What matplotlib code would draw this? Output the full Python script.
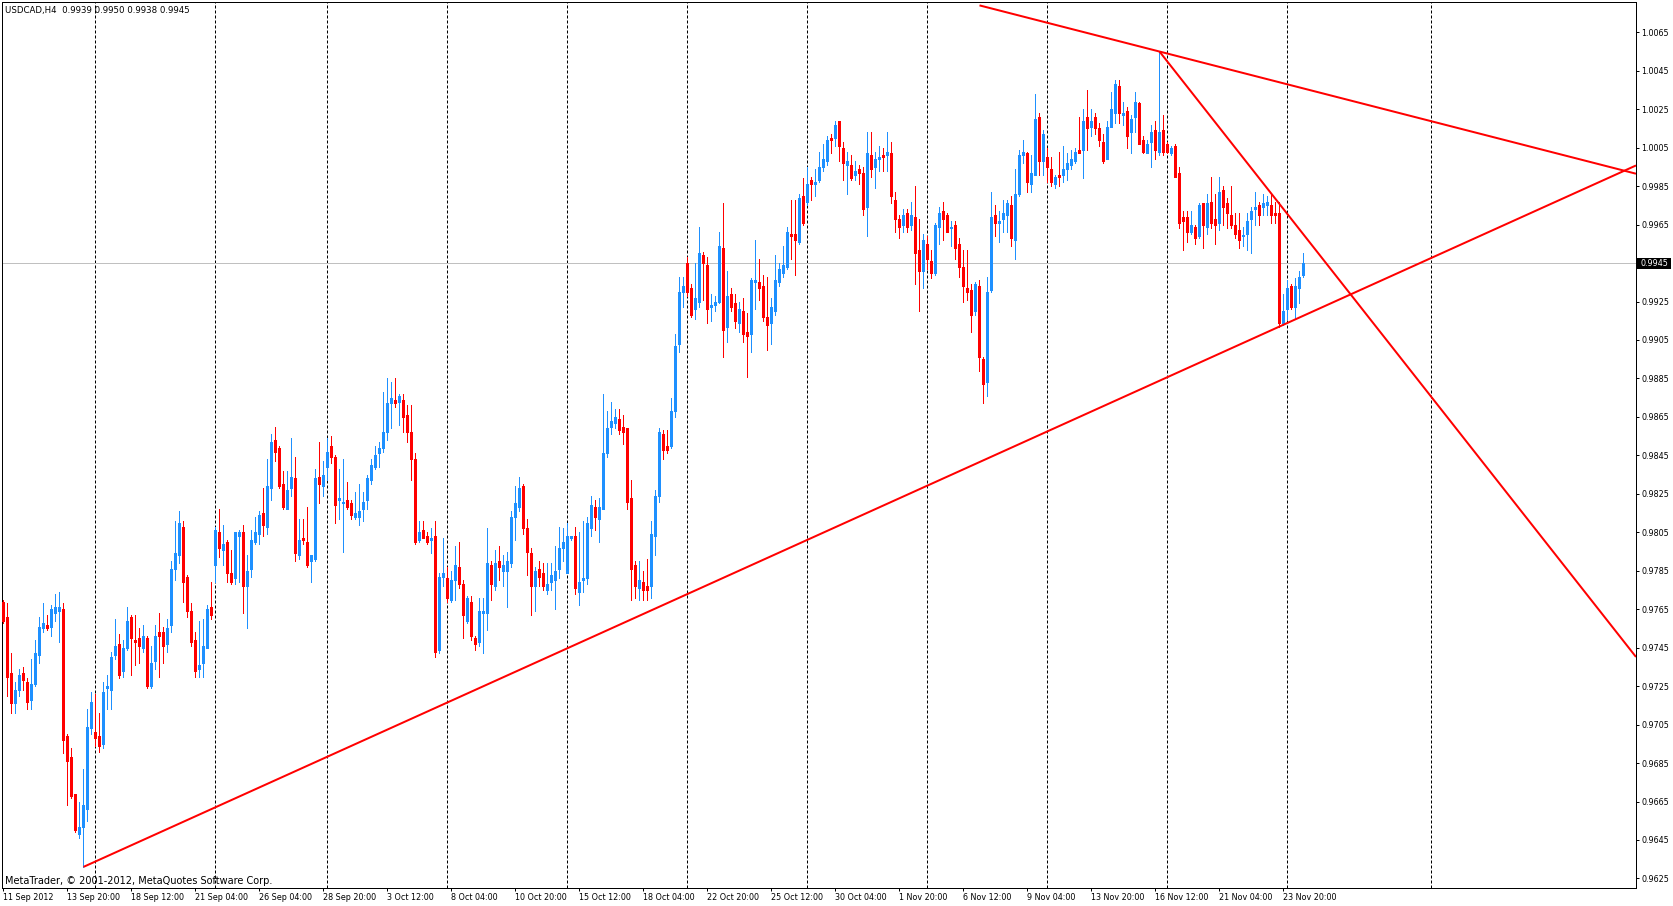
import numpy as np
import matplotlib
matplotlib.use("Agg")
import matplotlib.pyplot as plt
import matplotlib.transforms as mtransforms
from matplotlib.patches import Rectangle

# USDCAD H4 bars (bar index 0 = 11 Sep 2012)
opens = [
    0.9769, 0.9761, 0.9732, 0.9716, 0.9723, 0.9732, 0.9727, 0.9718, 0.9726, 0.9741,
    0.9755, 0.9757, 0.9756, 0.9763, 0.9764, 0.9765, 0.9699, 0.9688, 0.9669, 0.9648,
    0.9652, 0.9661, 0.9703, 0.9701, 0.9699, 0.9695, 0.9724, 0.9723, 0.9741, 0.9747,
    0.9733, 0.9745, 0.9761, 0.9749, 0.9750, 0.9745, 0.9750, 0.9725, 0.9738, 0.9753,
    0.9753, 0.9747, 0.9757, 0.9786, 0.9793, 0.9808, 0.9782, 0.9764, 0.9749, 0.9734,
    0.9737, 0.9745, 0.9766, 0.9788, 0.9805, 0.9796, 0.9800, 0.9784, 0.9781, 0.9803,
    0.9805, 0.9777, 0.9786, 0.9800, 0.9804, 0.9815, 0.9808, 0.9828, 0.9853, 0.9849,
    0.9830, 0.9817, 0.9828, 0.9833, 0.9793, 0.9802, 0.9800, 0.9790, 0.9791, 0.9834,
    0.9829, 0.9839, 0.9850, 0.9844, 0.9822, 0.9820, 0.9822, 0.9820, 0.9813, 0.9813,
    0.9817, 0.9822, 0.9832, 0.9839, 0.9846, 0.9849, 0.9857, 0.9872, 0.9874, 0.9873,
    0.9874, 0.9866, 0.9857, 0.9843, 0.9801, 0.9806, 0.9803, 0.9801, 0.9803, 0.9744,
    0.9782, 0.9781, 0.9770, 0.9780, 0.9787, 0.9778, 0.9759, 0.9769, 0.9750, 0.9748,
    0.9763, 0.9763, 0.9788, 0.9777, 0.9790, 0.9785, 0.9785, 0.9789, 0.9813, 0.9818,
    0.9829, 0.9807, 0.9794, 0.9777, 0.9786, 0.9784, 0.9775, 0.9779, 0.9780, 0.9786,
    0.9797, 0.9784, 0.9802, 0.9803, 0.9774, 0.9780, 0.9781, 0.9807, 0.9818, 0.9812,
    0.9817, 0.9846, 0.9860, 0.9862, 0.9864, 0.9860, 0.9859, 0.9823, 0.9788, 0.9776,
    0.9779, 0.9777, 0.9777, 0.9803, 0.9824, 0.9856, 0.9850, 0.9850, 0.9868, 0.9903,
    0.9930, 0.9945, 0.9932, 0.9921, 0.9925, 0.9949, 0.9944, 0.9922, 0.9923, 0.9925,
    0.9953, 0.9912, 0.9929, 0.9924, 0.9914, 0.9920, 0.9909, 0.9908, 0.9935, 0.9935,
    0.9933, 0.9917, 0.9914, 0.9920, 0.9935, 0.9940, 0.9943, 0.9960, 0.9960, 0.9956,
    0.9980, 0.9977, 0.9988, 0.9986, 0.9988, 0.9995, 0.9998, 1.0010, 1.0010, 1.0019,
    1.0005, 0.9996, 0.9996, 0.9991, 0.9994, 0.9992, 0.9974, 1.0001, 0.9995, 0.9999,
    1.0001, 1.0001, 1.0002, 0.9978, 0.9968, 0.9965, 0.9971, 0.9965, 0.9969, 0.9952,
    0.9941, 0.9955, 0.9946, 0.9940, 0.9964, 0.9972, 0.9970, 0.9963, 0.9965, 0.9955,
    0.9943, 0.9932, 0.9931, 0.9920, 0.9933, 0.9895, 0.9883, 0.9931, 0.9970, 0.9966,
    0.9968, 0.9970, 0.9975, 0.9957, 0.9981, 1.0001, 1.0002, 0.9986, 0.9991, 1.0021,
    0.9998, 1.0000, 0.9994, 0.9986, 0.9991, 0.9991, 0.9994, 0.9996, 0.9998, 1.0004,
    1.0004, 1.0021, 1.0016, 1.0021, 1.0015, 1.0008, 0.9999, 1.0016, 1.0023, 1.0037,
    1.0022, 1.0024, 1.0013, 1.0021, 1.0028, 1.0009, 1.0002, 1.0008, 1.0014, 1.0003,
    1.0014, 1.0007, 1.0002, 1.0006, 0.9992, 0.9969, 0.9969, 0.9961, 0.9964, 0.9959,
    0.9976, 0.9964, 0.9977, 0.9968, 0.9966, 0.9983, 0.9976, 0.9970, 0.9965, 0.9962,
    0.9959, 0.9960, 0.9968, 0.9973, 0.9975, 0.9974, 0.9975, 0.9975, 0.9971, 0.9971,
    0.9914, 0.9921, 0.9933, 0.9922, 0.9932, 0.9939,
]
highs = [
    0.9770, 0.9768, 0.9742, 0.9727, 0.9734, 0.9735, 0.9729, 0.9739, 0.9749, 0.9761,
    0.9768, 0.9762, 0.9767, 0.9773, 0.9774, 0.9768, 0.9700, 0.9693, 0.9669, 0.9665,
    0.9682, 0.9713, 0.9722, 0.9721, 0.9711, 0.9727, 0.9731, 0.9743, 0.9760, 0.9752,
    0.9749, 0.9766, 0.9762, 0.9762, 0.9755, 0.9757, 0.9751, 0.9746, 0.9757, 0.9763,
    0.9756, 0.9760, 0.9790, 0.9811, 0.9816, 0.9811, 0.9783, 0.9768, 0.9753, 0.9759,
    0.9760, 0.9767, 0.9779, 0.9808, 0.9817, 0.9809, 0.9801, 0.9796, 0.9805, 0.9806,
    0.9809, 0.9793, 0.9806, 0.9813, 0.9816, 0.9828, 0.9843, 0.9856, 0.9860, 0.9850,
    0.9837, 0.9837, 0.9854, 0.9844, 0.9812, 0.9812, 0.9818, 0.9793, 0.9838, 0.9852,
    0.9842, 0.9854, 0.9855, 0.9845, 0.9838, 0.9843, 0.9831, 0.9822, 0.9826, 0.9830,
    0.9826, 0.9835, 0.9843, 0.9850, 0.9852, 0.9878, 0.9885, 0.9883, 0.9885, 0.9877,
    0.9877, 0.9871, 0.9871, 0.9846, 0.9811, 0.9811, 0.9805, 0.9807, 0.9811, 0.9784,
    0.9802, 0.9787, 0.9785, 0.9798, 0.9800, 0.9780, 0.9772, 0.9772, 0.9751, 0.9771,
    0.9771, 0.9807, 0.9790, 0.9796, 0.9798, 0.9793, 0.9795, 0.9816, 0.9829, 0.9834,
    0.9830, 0.9812, 0.9797, 0.9787, 0.9790, 0.9789, 0.9789, 0.9789, 0.9798, 0.9808,
    0.9807, 0.9810, 0.9803, 0.9808, 0.9805, 0.9811, 0.9813, 0.9824, 0.9822, 0.9823,
    0.9877, 0.9868, 0.9873, 0.9869, 0.9869, 0.9866, 0.9859, 0.9832, 0.9790, 0.9790,
    0.9785, 0.9791, 0.9811, 0.9827, 0.9859, 0.9858, 0.9858, 0.9875, 0.9908, 0.9938,
    0.9938, 0.9948, 0.9934, 0.9945, 0.9964, 0.9951, 0.9948, 0.9929, 0.9928, 0.9961,
    0.9976, 0.9941, 0.9932, 0.9929, 0.9925, 0.9927, 0.9919, 0.9937, 0.9957, 0.9947,
    0.9939, 0.9938, 0.9927, 0.9949, 0.9945, 0.9954, 0.9964, 0.9978, 0.9978, 0.9981,
    0.9989, 0.9995, 0.9990, 0.9994, 1.0003, 1.0007, 1.0011, 1.0012, 1.0019, 1.0019,
    1.0008, 1.0003, 1.0001, 0.9998, 0.9996, 0.9995, 1.0013, 1.0013, 1.0003, 1.0006,
    1.0005, 1.0013, 1.0008, 0.9982, 0.9970, 0.9973, 0.9973, 0.9977, 0.9985, 0.9968,
    0.9960, 0.9959, 0.9952, 0.9966, 0.9974, 0.9977, 0.9971, 0.9967, 0.9967, 0.9958,
    0.9952, 0.9952, 0.9934, 0.9935, 0.9936, 0.9896, 0.9938, 0.9982, 0.9975, 0.9972,
    0.9978, 0.9978, 0.9980, 0.9994, 1.0004, 1.0009, 1.0003, 1.0001, 1.0033, 1.0023,
    1.0014, 1.0005, 1.0000, 0.9991, 1.0003, 1.0006, 1.0002, 1.0004, 1.0005, 1.0021,
    1.0025, 1.0035, 1.0025, 1.0023, 1.0018, 1.0012, 1.0019, 1.0034, 1.0040, 1.0040,
    1.0029, 1.0026, 1.0022, 1.0034, 1.0029, 1.0011, 1.0009, 1.0017, 1.0019, 1.0055,
    1.0022, 1.0008, 1.0006, 1.0007, 0.9995, 0.9972, 0.9972, 0.9972, 0.9965, 0.9976,
    0.9976, 0.9981, 0.9990, 0.9981, 0.9990, 0.9985, 0.9979, 0.9985, 0.9971, 0.9971,
    0.9964, 0.9971, 0.9974, 0.9982, 0.9977, 0.9981, 0.9980, 0.9981, 0.9977, 0.9977,
    0.9929, 0.9936, 0.9934, 0.9937, 0.9941, 0.9950,
]
lows = [
    0.9758, 0.9720, 0.9711, 0.9711, 0.9720, 0.9723, 0.9713, 0.9713, 0.9725, 0.9737,
    0.9753, 0.9754, 0.9751, 0.9759, 0.9748, 0.9690, 0.9663, 0.9667, 0.9649, 0.9646,
    0.9631, 0.9655, 0.9700, 0.9694, 0.9691, 0.9693, 0.9713, 0.9713, 0.9739, 0.9729,
    0.9730, 0.9744, 0.9731, 0.9736, 0.9737, 0.9743, 0.9724, 0.9724, 0.9734, 0.9730,
    0.9737, 0.9743, 0.9753, 0.9780, 0.9789, 0.9769, 0.9761, 0.9746, 0.9730, 0.9730,
    0.9730, 0.9745, 0.9760, 0.9779, 0.9792, 0.9788, 0.9779, 0.9778, 0.9778, 0.9779,
    0.9763, 0.9755, 0.9782, 0.9799, 0.9799, 0.9803, 0.9804, 0.9822, 0.9842, 0.9828,
    0.9817, 0.9817, 0.9824, 0.9790, 0.9791, 0.9799, 0.9787, 0.9779, 0.9790, 0.9820,
    0.9824, 0.9832, 0.9841, 0.9810, 0.9812, 0.9795, 0.9817, 0.9812, 0.9812, 0.9809,
    0.9811, 0.9817, 0.9830, 0.9838, 0.9839, 0.9847, 0.9853, 0.9859, 0.9870, 0.9861,
    0.9857, 0.9852, 0.9832, 0.9799, 0.9800, 0.9802, 0.9799, 0.9794, 0.9740, 0.9742,
    0.9777, 0.9769, 0.9769, 0.9770, 0.9776, 0.9750, 0.9758, 0.9749, 0.9744, 0.9746,
    0.9742, 0.9754, 0.9770, 0.9775, 0.9780, 0.9777, 0.9766, 0.9787, 0.9801, 0.9816,
    0.9804, 0.9783, 0.9762, 0.9764, 0.9777, 0.9775, 0.9773, 0.9775, 0.9765, 0.9781,
    0.9790, 0.9784, 0.9801, 0.9773, 0.9767, 0.9774, 0.9778, 0.9803, 0.9806, 0.9800,
    0.9817, 0.9844, 0.9856, 0.9859, 0.9856, 0.9851, 0.9817, 0.9770, 0.9771, 0.9770,
    0.9770, 0.9770, 0.9771, 0.9793, 0.9821, 0.9843, 0.9846, 0.9849, 0.9865, 0.9899,
    0.9922, 0.9928, 0.9917, 0.9916, 0.9922, 0.9926, 0.9914, 0.9915, 0.9920, 0.9924,
    0.9896, 0.9904, 0.9920, 0.9911, 0.9909, 0.9904, 0.9886, 0.9899, 0.9921, 0.9926,
    0.9915, 0.9900, 0.9903, 0.9918, 0.9933, 0.9938, 0.9942, 0.9947, 0.9939, 0.9955,
    0.9965, 0.9975, 0.9978, 0.9980, 0.9987, 0.9993, 0.9996, 1.0002, 1.0006, 0.9998,
    0.9988, 0.9981, 0.9988, 0.9988, 0.9986, 0.9970, 0.9959, 0.9990, 0.9984, 0.9993,
    0.9993, 0.9993, 0.9976, 0.9961, 0.9958, 0.9961, 0.9961, 0.9962, 0.9934, 0.9920,
    0.9932, 0.9942, 0.9937, 0.9939, 0.9955, 0.9957, 0.9961, 0.9954, 0.9947, 0.9938,
    0.9925, 0.9926, 0.9909, 0.9918, 0.9889, 0.9872, 0.9876, 0.9930, 0.9959, 0.9956,
    0.9961, 0.9961, 0.9954, 0.9947, 0.9980, 0.9997, 0.9982, 0.9982, 0.9991, 0.9991,
    0.9991, 0.9987, 0.9985, 0.9984, 0.9985, 0.9987, 0.9988, 0.9994, 0.9997, 1.0002,
    0.9989, 1.0004, 1.0011, 1.0012, 1.0006, 0.9997, 0.9999, 1.0016, 1.0018, 1.0018,
    1.0017, 1.0005, 1.0002, 1.0013, 1.0007, 1.0002, 1.0002, 0.9995, 0.9999, 1.0001,
    1.0001, 1.0002, 1.0001, 0.9990, 0.9963, 0.9952, 0.9956, 0.9960, 0.9955, 0.9958,
    0.9953, 0.9960, 0.9963, 0.9955, 0.9962, 0.9965, 0.9963, 0.9963, 0.9958, 0.9953,
    0.9954, 0.9952, 0.9950, 0.9965, 0.9965, 0.9970, 0.9970, 0.9966, 0.9966, 0.9912,
    0.9913, 0.9916, 0.9921, 0.9916, 0.9924, 0.9938,
]
closes = [
    0.9759, 0.9730, 0.9716, 0.9723, 0.9731, 0.9728, 0.9717, 0.9726, 0.9742, 0.9756,
    0.9758, 0.9755, 0.9765, 0.9766, 0.9766, 0.9697, 0.9686, 0.9668, 0.9650, 0.9652,
    0.9663, 0.9704, 0.9717, 0.9698, 0.9694, 0.9722, 0.9725, 0.9740, 0.9746, 0.9731,
    0.9745, 0.9759, 0.9750, 0.9748, 0.9746, 0.9751, 0.9725, 0.9737, 0.9751, 0.9751,
    0.9746, 0.9755, 0.9786, 0.9794, 0.9810, 0.9779, 0.9764, 0.9748, 0.9733, 0.9736,
    0.9746, 0.9765, 0.9762, 0.9806, 0.9797, 0.9799, 0.9784, 0.9779, 0.9805, 0.9805,
    0.9777, 0.9785, 0.9801, 0.9805, 0.9814, 0.9809, 0.9829, 0.9852, 0.9847, 0.9829,
    0.9818, 0.9827, 0.9834, 0.9794, 0.9801, 0.9801, 0.9788, 0.9793, 0.9833, 0.9830,
    0.9835, 0.9847, 0.9844, 0.9819, 0.9823, 0.9821, 0.9818, 0.9814, 0.9815, 0.9816,
    0.9821, 0.9833, 0.9840, 0.9845, 0.9849, 0.9857, 0.9872, 0.9875, 0.9872, 0.9876,
    0.9865, 0.9857, 0.9843, 0.9800, 0.9805, 0.9802, 0.9800, 0.9802, 0.9743, 0.9782,
    0.9784, 0.9771, 0.9780, 0.9788, 0.9778, 0.9762, 0.9771, 0.9751, 0.9747, 0.9764,
    0.9764, 0.9789, 0.9778, 0.9789, 0.9787, 0.9788, 0.9790, 0.9813, 0.9820, 0.9828,
    0.9807, 0.9795, 0.9777, 0.9785, 0.9782, 0.9777, 0.9778, 0.9783, 0.9785, 0.9797,
    0.9800, 0.9803, 0.9803, 0.9776, 0.9779, 0.9781, 0.9810, 0.9819, 0.9813, 0.9818,
    0.9846, 0.9859, 0.9863, 0.9865, 0.9858, 0.9857, 0.9821, 0.9786, 0.9777, 0.9780,
    0.9775, 0.9775, 0.9804, 0.9824, 0.9857, 0.9848, 0.9848, 0.9868, 0.9902, 0.9930,
    0.9933, 0.9930, 0.9918, 0.9927, 0.9950, 0.9945, 0.9921, 0.9923, 0.9925, 0.9954,
    0.9910, 0.9928, 0.9922, 0.9915, 0.9921, 0.9908, 0.9907, 0.9936, 0.9936, 0.9932,
    0.9917, 0.9913, 0.9922, 0.9936, 0.9942, 0.9944, 0.9961, 0.9959, 0.9957, 0.9979,
    0.9966, 0.9986, 0.9986, 0.9987, 0.9995, 0.9999, 1.0009, 1.0009, 1.0017, 1.0006,
    0.9997, 0.9998, 0.9989, 0.9993, 0.9992, 0.9973, 1.0002, 0.9994, 0.9999, 1.0000,
    1.0000, 1.0003, 0.9980, 0.9968, 0.9964, 0.9970, 0.9964, 0.9970, 0.9950, 0.9941,
    0.9957, 0.9947, 0.9940, 0.9965, 0.9971, 0.9968, 0.9961, 0.9964, 0.9953, 0.9943,
    0.9933, 0.9930, 0.9918, 0.9934, 0.9896, 0.9882, 0.9930, 0.9969, 0.9966, 0.9967,
    0.9971, 0.9976, 0.9958, 0.9981, 1.0001, 1.0003, 0.9987, 0.9992, 1.0020, 0.9998,
    1.0012, 0.9995, 0.9987, 0.9990, 0.9990, 0.9994, 0.9997, 0.9999, 1.0003, 1.0002,
    1.0019, 1.0015, 1.0019, 1.0015, 1.0009, 0.9998, 1.0016, 1.0025, 1.0038, 1.0023,
    1.0023, 1.0011, 1.0020, 1.0029, 1.0007, 1.0003, 1.0007, 1.0013, 1.0004, 1.0013,
    1.0003, 1.0003, 1.0005, 0.9990, 0.9966, 0.9967, 0.9961, 0.9965, 0.9958, 0.9975,
    0.9965, 0.9976, 0.9966, 0.9965, 0.9982, 0.9974, 0.9971, 0.9965, 0.9960, 0.9957,
    0.9959, 0.9967, 0.9972, 0.9974, 0.9970, 0.9976, 0.9977, 0.9970, 0.9970, 0.9914,
    0.9920, 0.9932, 0.9922, 0.9933, 0.9938, 0.9945,
]

# weekly period separators (bar index)
separator_bars = [23, 53, 81, 111, 141, 171, 201, 231, 261, 291, 321, 357]

date_bars = [0, 16, 32, 48, 64, 80, 96, 112, 128, 144, 160,
             176, 192, 208, 224, 240, 256, 272, 288, 304, 320]
date_labels = ["11 Sep 2012", "13 Sep 20:00", "18 Sep 12:00", "21 Sep 04:00",
               "26 Sep 04:00", "28 Sep 20:00", "3 Oct 12:00", "8 Oct 04:00",
               "10 Oct 20:00", "15 Oct 12:00", "18 Oct 04:00", "22 Oct 20:00",
               "25 Oct 12:00", "30 Oct 04:00", "1 Nov 20:00", "6 Nov 12:00",
               "9 Nov 04:00", "13 Nov 20:00", "16 Nov 12:00", "21 Nov 04:00",
               "23 Nov 20:00"]

price_ticks = [0.9625, 0.9645, 0.9665, 0.9685, 0.9705, 0.9725, 0.9745, 0.9765,
               0.9785, 0.9805, 0.9825, 0.9845, 0.9865, 0.9885, 0.9905, 0.9925,
               0.9945, 0.9965, 0.9985, 1.0005, 1.0025, 1.0045, 1.0065]

last_price = 0.9945
header = "USDCAD,H4  0.9939 0.9950 0.9938 0.9945"
footer = "MetaTrader, \u00a9 2001-2012, MetaQuotes Software Corp."

# trend lines: two anchor points (bar, price), drawn as rays to the right
trend_lines = [
    ((20, 0.9631), (319, 0.9912)),
    ((244, 1.0079), (289, 1.0055)),
    ((289, 1.0055), (317, 0.9981)),
]

BULL = "#1E90FF"
BEAR = "#FF0000"
PX = 0.72  # one pixel in points at dpi 100

W, H = 1674, 906
fig = plt.figure(figsize=(W / 100, H / 100), dpi=100)
fig.patch.set_facecolor("white")
ax = fig.add_axes([2 / W, 18 / H, 1634 / W, 886 / H])
x_left, x_right = -0.375, 408.125
y_low, y_high = 0.962002, 1.008076
ax.set_xlim(x_left, x_right)
ax.set_ylim(y_low, y_high)
ax.set_facecolor("white")

plt.rcParams["font.family"] = ["DejaVu Sans"]

# period separators
ax.vlines(separator_bars, y_low, y_high, colors="black",
          linestyles=(0, (3, 2)), lw=PX, zorder=1)

# bid line
ax.axhline(last_price, color="#C0C0C0", lw=PX, zorder=1)

# candles: 1 px wicks, 3 px bodies
o = np.array(opens)
h = np.array(highs)
l = np.array(lows)
c = np.array(closes)
pos = np.arange(len(c))
colors = np.where(c >= o, BULL, BEAR)
ax.vlines(pos, l, h, colors=colors, lw=PX, zorder=3, antialiased=False)
body_lo = np.minimum(o, c)
body_hi = np.maximum(np.maximum(o, c), body_lo + 1 / 19230)
bodies = ax.vlines(pos, body_lo, body_hi, colors=colors, lw=3 * PX,
                   zorder=4, antialiased=False)
bodies.set_capstyle("butt")

# trend lines
for (x1, y1), (x2, y2) in trend_lines:
    slope = (y2 - y1) / (x2 - x1)
    ax.plot([x1, x_right], [y1, y1 + slope * (x_right - x1)],
            color="#FF0000", lw=2 * PX, zorder=5, solid_capstyle="butt")

# axes styling
for sp in ax.spines.values():
    sp.set_color("black")
    sp.set_linewidth(PX)

ax.yaxis.tick_right()
ax.set_yticks(price_ticks)
ax.set_yticklabels(["" if abs(v - last_price) < 1e-6 else f"{v:.4f}" for v in price_ticks])
ax.tick_params(axis="y", which="major", direction="out", length=3 * PX, width=PX,
               pad=2.5 * PX, labelsize=5.8, colors="black",
               right=True, left=False, labelright=True, labelleft=False)

ax.set_xticks([b - 0.2 for b in date_bars])
ax.set_xticklabels(date_labels)
ax.tick_params(axis="x", which="major", direction="out", length=3 * PX, width=PX,
               pad=1.5, labelsize=5.8, colors="black")
for lbl in ax.get_xticklabels():
    lbl.set_horizontalalignment("left")

# current price box on the price scale
blend = mtransforms.blended_transform_factory(ax.transAxes, ax.transData)
box_w = 34 / 1634
box_h = 11 / 19230
ax.add_patch(Rectangle((1.0006, last_price - box_h / 2), box_w, box_h,
                       transform=blend, facecolor="black", edgecolor="none",
                       clip_on=False, zorder=6))
ax.text(1.0006 + box_w / 2, last_price, f"{last_price:.4f}", transform=blend,
        ha="center", va="center", color="white", fontsize=5.8, zorder=7,
        clip_on=False)

fig.text(5 / W, 1 - 10 / H, header, fontsize=6.2, ha="left", va="center",
         color="black")
fig.text(5 / W, 1 - 881 / H, footer, fontsize=7.0, ha="left", va="center",
         color="black")

fig.savefig("out.png", dpi=100, facecolor="white")
